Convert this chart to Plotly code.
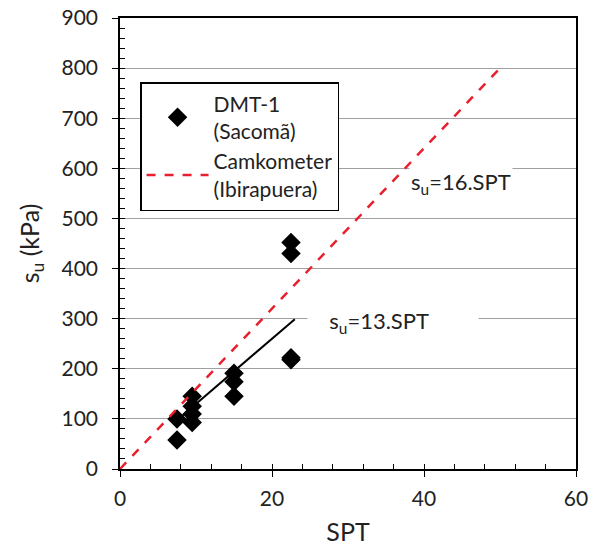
import plotly.graph_objects as go

spt = [7.5, 7.5, 9.5, 9.5, 9.5, 9.5, 15, 15, 15, 22.5, 22.5, 22.5, 22.5]
su = [58, 100, 145, 125, 110, 93, 191, 174, 145, 452, 430, 222, 218]

line13_x = [7.5, 23]
line13_y = [97.5, 299]
line16_x = [0, 50]
line16_y = [0, 800]

x_range = [0, 60]
y_range = [0, 900]

font = "Lato, 'Open Sans', sans-serif"
fs = 21

fig = go.Figure()
fig.add_trace(go.Scatter(x=spt, y=su, mode="markers", name="DMT-1<br>(Sacomã)",
                         marker=dict(symbol="diamond", size=15, color="black")))
fig.add_trace(go.Scatter(x=line16_x, y=line16_y, mode="lines", name="Camkometer<br>(Ibirapuera)",
                         line=dict(color="#e8202e", width=2.5, dash="dash")))
fig.add_trace(go.Scatter(x=line13_x, y=line13_y, mode="lines", showlegend=False,
                         line=dict(color="black", width=2)))
# empty trace to carry the minor-tick overlay axes
fig.add_trace(go.Scatter(x=[], y=[], xaxis="x2", yaxis="y2", showlegend=False, hoverinfo="skip"))

fig.add_annotation(x=44.9, y=571, text="s<sub>u</sub>=16.SPT", showarrow=False,
                   font=dict(size=22, color="#222"), bgcolor="white")
fig.add_annotation(x=35.9, y=293, text="&nbsp;&nbsp;s<sub>u</sub>=13.SPT", showarrow=False,
                   font=dict(size=22, color="#222"), bgcolor="white", borderpad=10,
                   width=150, align="left")

fig.update_layout(
    width=590, height=547,
    margin=dict(l=120, r=14, t=18, b=78),
    plot_bgcolor="white", paper_bgcolor="white",
    font=dict(family=font, size=fs, color="#222"),
    showlegend=True,
    legend=dict(x=0.044, y=0.858, xanchor="left", yanchor="top",
                bordercolor="black", borderwidth=1.5, bgcolor="white",
                font=dict(size=21), tracegroupgap=0, itemwidth=62),
    xaxis=dict(range=x_range, dtick=20, showgrid=False, zeroline=False, automargin=False,
               showline=True, linecolor="black", linewidth=1.5, mirror=True,
               ticks="outside", ticklen=6, tickcolor="black", tickwidth=1.2,
               ticklabelstandoff=4, ticklabeloverflow="allow", title=dict(text="SPT")),
    yaxis=dict(range=y_range, dtick=100, showgrid=True, gridcolor="#a0a0a0", gridwidth=1,
               zeroline=False, automargin=False,
               showline=True, linecolor="black", linewidth=1.5, mirror=True,
               ticks="outside", ticklen=6, tickcolor="black", tickwidth=1.2,
               ticklabelstandoff=10, ticklabeloverflow="allow",
               title=dict(text="s<sub>u</sub> (kPa)")),
    xaxis2=dict(range=x_range, overlaying="x", anchor="y", side="bottom", dtick=4,
                ticks="inside", ticklen=5, tickcolor="black", tickwidth=1,
                showticklabels=False, showgrid=False, zeroline=False, showline=False,
                automargin=False),
    yaxis2=dict(range=y_range, overlaying="y", anchor="x", side="left", dtick=20,
                ticks="inside", ticklen=5, tickcolor="black", tickwidth=1,
                showticklabels=False, showgrid=False, zeroline=False, showline=False,
                automargin=False),
)

fig.write_html("out.html", config={"displayModeBar": False},
               post_script="document.body.style.margin='0';document.body.style.overflow='hidden';")
